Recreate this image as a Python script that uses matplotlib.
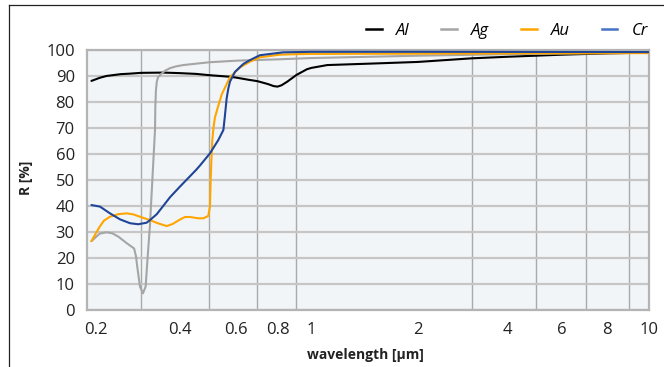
import numpy as np
import matplotlib.pyplot as plt
from matplotlib.lines import Line2D

plt.rcParams['font.family'] = ['Open Sans', 'DejaVu Sans']

# --- data ---
al_wl = [0.192, 0.207, 0.22, 0.25, 0.272, 0.30, 0.355, 0.40, 0.4525, 0.50, 0.5767,
         0.60, 0.66, 0.70, 0.75, 0.78, 0.80, 0.82, 0.85, 0.90, 0.97, 1.0, 1.11,
         1.5, 2, 3, 4, 6, 8, 10]
al_r = [88.1, 89.3, 90.0, 90.7, 90.9, 91.2, 91.3, 91.1, 90.8, 90.3, 89.7,
        89.4, 88.5, 88.0, 86.9, 86.1, 85.9, 86.4, 87.8, 90.4, 92.6, 93.1, 94.2,
        94.8, 95.4, 96.8, 97.4, 98.2, 98.7, 99.0]

ag_wl = [0.192, 0.200, 0.207, 0.220, 0.232, 0.245, 0.264, 0.282, 0.287, 0.2901,
         0.2974, 0.3045, 0.3107, 0.3144, 0.3209, 0.327, 0.3332, 0.334, 0.3355,
         0.3377, 0.341, 0.3506, 0.36, 0.3727, 0.39, 0.4114, 0.45, 0.5017, 0.6065,
         0.8, 1.0, 2, 4, 10]
ag_r = [26.4, 28.0, 29.3, 29.8, 29.4, 28.1, 25.6, 23.6, 20.5, 16.6,
        8.9, 6.3, 8.9, 18.0, 32.6, 51.0, 69.2, 78.0, 84.5,
        87.8, 89.6, 91.0, 92.1, 93.0, 93.7, 94.2, 94.7, 95.3, 95.9,
        96.4, 96.9, 97.8, 98.4, 99.0]

au_wl = [0.192, 0.200, 0.207, 0.215, 0.227, 0.245, 0.264, 0.280, 0.2974, 0.3209,
         0.340, 0.3637, 0.380, 0.40, 0.4166, 0.4325, 0.46, 0.478, 0.4956, 0.5017,
         0.5042, 0.5070, 0.5098, 0.5141, 0.5194, 0.5316, 0.5450, 0.5767, 0.6185,
         0.6636, 0.7117, 0.8124, 0.9, 1.0, 2, 10]
au_r = [26.4, 29.5, 32.0, 34.3, 35.8, 36.8, 37.1, 36.7, 35.8, 34.5,
        33.3, 32.2, 33.0, 34.6, 35.7, 35.7, 35.2, 35.2, 36.1, 39.7,
        50.0, 58.0, 65.0, 70.0, 74.0, 78.5, 83.0, 89.5, 93.3,
        95.5, 97.2, 98.2, 98.4, 98.5, 98.6, 98.8]

cr_wl = [0.192, 0.2074, 0.2269, 0.2483, 0.2718, 0.2927, 0.3130, 0.3209, 0.3377,
         0.3546, 0.3727, 0.40, 0.4525, 0.4658, 0.5017, 0.5316, 0.5509, 0.5571,
         0.5636, 0.5702, 0.5767, 0.5973, 0.6330, 0.6636, 0.7117, 0.829, 1.0, 2, 10]
cr_r = [40.3, 39.7, 37.1, 34.8, 33.3, 32.9, 33.5, 34.5, 36.8,
        40.0, 43.3, 47.2, 53.8, 55.5, 60.2, 65.3, 69.2, 75.0,
        81.4, 85.2, 87.8, 91.6, 94.6, 96.1, 98.0, 99.1, 99.3, 99.3, 99.2]

x_ticks = [0.2, 0.4, 0.6, 0.8, 1, 2, 4, 6, 8, 10]
x_ticklabels = ['0.2', '0.4', '0.6', '0.8', '1', '2', '4', '6', '8', '10']
x_grid = [0.3, 0.4, 0.5, 0.6, 0.7, 0.8, 0.9, 1, 2, 3, 4, 5, 6, 7, 8, 9, 10]
y_ticks = list(range(0, 101, 10))

series = [('Al', al_wl, al_r, 'black', 'black'),
          ('Ag', ag_wl, ag_r, '#a5a5a5', '#a5a5a5'),
          ('Au', au_wl, au_r, '#ffa500', '#ffa500'),
          ('Cr', cr_wl, cr_r, '#1f4597', '#4472c4')]

# the source axis is a hand-spaced log axis: map log10(wavelength) onto it
scale_log = np.log10([0.1, 0.2, 0.3, 0.4, 0.5, 0.6, 0.7, 0.8, 0.9, 1,
                      2, 3, 4, 5, 6, 7, 8, 9, 10, 100])
scale_pos = np.array([19.1, 96, 141, 179.5, 209.5, 235.7, 257.5, 277.5, 296.5, 311.3,
                      417.7, 472, 507.7, 535.7, 562.3, 585.7, 607.3, 629, 648.7, 986])


def fwd(x):
    x = np.maximum(np.asarray(x, dtype=float), 1e-6)
    return np.interp(np.log10(x), scale_log, scale_pos)


def inv(p):
    return 10 ** np.interp(np.asarray(p, dtype=float), scale_pos, scale_log)


fig = plt.figure(figsize=(6.64, 3.67), dpi=100)
W, H = 664, 367
ax = fig.add_axes([87.3 / W, 1 - 309.7 / H, (648.7 - 87.3) / W, (309.7 - 50) / H])
ax.set_facecolor('#f2f5f7')
ax.set_xscale('function', functions=(fwd, inv))

for name, wl, r, c, _ in series:
    ax.plot(wl, r, color=c, lw=1.5, solid_capstyle='round', solid_joinstyle='round', zorder=3)

ax.set_xlim(0.185, 10)
ax.set_ylim(0, 100)
ax.set_xticks(x_ticks)
ax.set_xticklabels(x_ticklabels)
ax.set_xticks(x_grid, minor=True)
ax.set_yticks(y_ticks)
ax.tick_params(axis='both', which='both', length=0, labelsize=12, colors='#222222')
ax.tick_params(axis='x', pad=9)
ax.tick_params(axis='y', pad=9)

ax.xaxis.grid(True, which='minor', color='#aaaaaa', lw=1.0)
ax.xaxis.grid(False, which='major')
ax.yaxis.grid(True, which='major', color='#c6c6c6', lw=1.6)
ax.set_axisbelow(True)
for sp in ax.spines.values():
    sp.set_color('#b4b4b4')
    sp.set_linewidth(1.6)

fig.text(365 / W, 1 - 355 / H, 'wavelength [µm]', fontsize=10, fontweight='bold',
         ha='center', va='center', color='#222222')
fig.text(26 / W, 1 - 178 / H, 'R [%]', fontsize=10, fontweight='bold',
         rotation=90, ha='center', va='center', color='#222222')

handles = [Line2D([], [], color=lc, lw=1.8) for _, _, _, _, lc in series]
labels = [s[0] for s in series]
fig.legend(handles, labels, loc='center right', bbox_to_anchor=(648 / W, 1 - 31 / H),
           ncol=4, frameon=False, borderpad=0, borderaxespad=0,
           handlelength=0.95, handletextpad=0.85, columnspacing=1.9,
           prop={'size': 12, 'style': 'italic'})

# outer frame of the source (cropped at right and bottom)
fig.add_artist(Line2D([8.7 / W, 1], [1 - 5 / H, 1 - 5 / H], color='#222222', lw=0.9))
fig.add_artist(Line2D([8.7 / W, 8.7 / W], [0, 1 - 5 / H], color='#222222', lw=0.9))

fig.savefig('out.png', dpi=100, facecolor='white')
